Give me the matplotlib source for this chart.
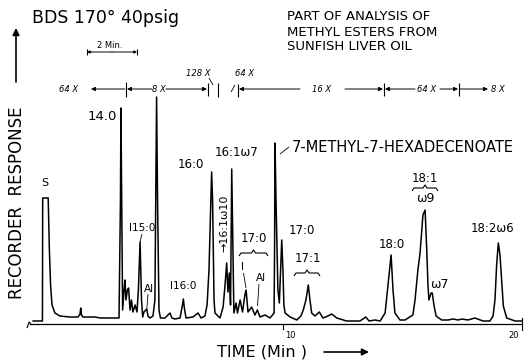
import matplotlib
matplotlib.use('Agg')
import matplotlib.pyplot as plt

# chromatogram trace
# time in minutes, response in chart divisions above the baseline
tempo = [-0.43, -0.04, -0.03, 0.20, 0.25, 0.30, 0.36, 0.48, 0.69, 1.11, 1.45, 1.53, 1.56, 1.59, 1.65,
         2.16, 2.37, 2.78, 3.16, 3.22, 3.24, 3.27, 3.31, 3.37, 3.41, 3.45, 3.51, 3.56, 3.62, 3.68,
         3.74, 3.83, 3.91, 3.97, 4.04, 4.10, 4.15, 4.20, 4.32, 4.37, 4.45, 4.58, 4.66, 4.73, 4.77,
         4.83, 4.89, 5.08, 5.29, 5.37, 5.50, 5.71, 5.81, 5.85, 5.89, 5.96, 6.25, 6.46, 6.59, 6.75,
         6.84, 6.92, 7.00, 7.03, 7.07, 7.13, 7.17, 7.38, 7.51, 7.59, 7.66, 7.71, 7.77, 7.82, 7.87,
         7.92, 7.96, 8.05, 8.11, 8.22, 8.32, 8.42, 8.47, 8.55, 8.70, 8.84, 8.94, 9.05, 9.26, 9.47,
         9.64, 9.66, 9.68, 9.72, 9.80, 9.86, 9.93, 9.96, 10.01, 10.05, 10.10, 10.31, 10.59, 10.76,
         10.86, 10.97, 11.07, 11.14, 11.21, 11.35, 11.53, 11.68, 11.89, 12.05, 12.26, 12.67, 13.23,
         13.47, 13.61, 13.86, 14.07, 14.28, 14.40, 14.53, 14.61, 14.69, 14.90, 15.11, 15.44, 15.53,
         15.65, 15.74, 15.86, 15.95, 16.02, 16.07, 16.11, 16.20, 16.25, 16.32, 16.41, 16.64, 16.91,
         17.12, 17.33, 17.49, 17.74, 18.03, 18.37, 18.66, 18.79, 18.87, 18.94, 19.01, 19.08, 19.16,
         19.22, 19.36, 19.71, 20.00]
resposta = [3, 3, 126, 126, 74, 39, 19, 11, 8, 7, 7, 10, 16, 9, 7,
            7, 6, 6, 6, 124, 216, 124, 14, 34, 44, 24, 34, 36, 14, 24,
            12, 19, 12, 34, 82, 24, 7, 12, 15, 8, 6, 8, 24, 227, 124,
            14, 6, 6, 11, 6, 5, 6, 19, 25, 16, 6, 7, 11, 6, 8,
            19, 54, 124, 152, 124, 24, 11, 6, 17, 39, 61, 32, 51, 19, 155,
            74, 11, 21, 11, 24, 12, 29, 34, 12, 17, 9, 14, 7, 9, 6,
            11, 74, 181, 124, 34, 21, 64, 84, 54, 19, 11, 7, 4, 8,
            14, 24, 39, 24, 11, 8, 12, 6, 8, 10, 6, 3, 3,
            7, 3, 4, 3, 11, 39, 69, 34, 11, 4, 4, 9, 24,
            54, 71, 109, 114, 74, 39, 24, 31, 31, 19, 8, 4, 4,
            5, 4, 5, 4, 6, 3, 3, 8, 24, 59, 81, 69, 39,
            18, 6, 3, 3]

# time axis ticks
ticks = [10, 20]

# layout helper: reference picture pixels -> chart units
X0, SX, Y0 = 43.4, 23.93, 324


def px(x, y):
    return (x - X0) / SX, Y0 - y


def linha(pontos, lw=0.8):
    xs, ys = zip(*[px(a, b) for a, b in pontos])
    ax.plot(xs, ys, color='black', lw=lw, solid_capstyle='butt')


def seta(x0, x1, y, ms=6, lw=0.7):
    ax.annotate('', xy=px(x1, y), xytext=px(x0, y),
                arrowprops=dict(arrowstyle='-|>', color='black', lw=lw,
                                mutation_scale=ms, shrinkA=0, shrinkB=0))


def chave(x0, x1, y, h=3):
    xm = (x0 + x1) / 2
    linha([(x0, y + h), (x0 + 2, y), (xm - 2, y), (xm, y - h), (xm + 2, y), (x1 - 2, y), (x1, y + h)])


def texto(x, y, s, size=8.5, **kw):
    kw.setdefault('ha', 'center')
    kw.setdefault('va', 'center')
    ax.text(*px(x, y), s, fontsize=size, color='black', **kw)


fig = plt.figure(figsize=(5.24, 3.6), dpi=100)
ax = fig.add_axes([0, 0, 1, 1])
ax.set_xlim(-X0 / SX, (524 - X0) / SX)
ax.set_ylim(Y0 - 360, Y0)
ax.axis('off')

# trace
ax.plot(tempo, resposta, color='black', lw=1.1, solid_joinstyle='round')

# time axis
ax.plot([px(30, 0)[0], ticks[-1]], [0, 0], color='black', lw=0.9)
linha([(27, 328), (29, 322), (31, 324)], lw=0.8)
ax.plot([ticks[0], ticks[0]], [0, -5], color='black', lw=0.8)
ax.plot([ticks[1], ticks[1]], [6, -6], color='black', lw=0.8)
texto(290, 336, str(ticks[0]), size=6)
texto(514, 336, str(ticks[1]), size=6)

# axis titles
texto(17, 203, 'RECORDER  RESPONSE', size=12, rotation=90)
ax.annotate('', xy=px(16, 28), xytext=px(16, 82),
            arrowprops=dict(arrowstyle='-|>', color='black', lw=1.2,
                            mutation_scale=10, shrinkA=0, shrinkB=0))
texto(217, 352, 'TIME (Min )', size=11.5, ha='left')
seta(324, 369, 352, ms=10, lw=1.2)

# header
texto(32, 18, 'BDS 170° 40psig', size=12.5, ha='left')
texto(287, 17, 'PART OF ANALYSIS OF', size=9.5, ha='left')
texto(287, 32, 'METHYL ESTERS FROM', size=9.5, ha='left')
texto(287, 47, 'SUNFISH LIVER OIL', size=9.5, ha='left')

# 2 min scale
texto(110, 45, '2 Min.', size=6)
seta(112, 87, 52, ms=4)
seta(112, 137, 52, ms=4)
linha([(87, 49), (87, 55)])
linha([(137, 49), (137, 55)])

# attenuation bar
y = 89
texto(69, y, '64 X', size=6, style='italic')
seta(125, 91, y)
linha([(126, 82), (126, 97)])
texto(159, y, '8 X', size=6, style='italic')
seta(152, 127, y)
seta(166, 207, y)
linha([(208, 83), (208, 96)])
linha([(218, 83), (218, 97)])
texto(198, 73, '128 X', size=6, style='italic')
linha([(209, 78), (213, 85)], lw=0.6)
texto(245, 73, '64 X', size=6, style='italic')
linha([(231, 92), (235, 85)], lw=0.6)
linha([(238, 84), (238, 97)])
texto(322, y, '16 X', size=6, style='italic')
seta(300, 239, y)
seta(345, 383, y)
linha([(384, 83), (384, 96)])
texto(427, y, '64 X', size=6, style='italic')
seta(415, 385, y)
seta(440, 458, y)
linha([(459, 83), (459, 96)])
seta(460, 488, y)
texto(498, y, '8 X', size=6, style='italic')

# peak labels
texto(45, 183, 'S', size=8)
texto(102, 116, '14.0', size=9.5)
texto(142, 228, 'I15:0', size=7.5)
linha([(142, 234), (140, 242)], lw=0.6)
texto(149, 289, 'AI', size=7.5)
linha([(148, 294), (146.7, 310)], lw=0.6)
texto(183, 286, 'I16:0', size=7.5)
texto(191, 164, '16:0', size=8.5)
texto(237, 152, '16:1ω7', size=8.5)
texto(224, 223, '→16:1ω10', size=8, rotation=90)
texto(254, 239, '17:0', size=8.5)
chave(239, 268, 253)
texto(242, 267, 'I', size=7.5)
linha([(243.5, 273), (246, 288)], lw=0.6)
texto(261, 278, 'AI', size=7.5)
linha([(259, 284), (257.5, 306)], lw=0.6)
texto(292, 147, '7-METHYL-7-HEXADECENOATE', size=10.5, ha='left')
linha([(280, 154), (289, 147)], lw=0.6)
texto(302, 231, '17:0', size=8.5)
texto(308, 259, '17:1', size=8.5)
chave(294, 320, 273)
texto(392, 244, '18:0', size=8.5)
texto(425, 178, '18:1', size=8.5)
chave(412, 438, 188)
texto(425, 199, 'ω9', size=9)
texto(439, 284, 'ω7', size=9)
texto(492, 229, '18:2ω6', size=8.5)

plt.savefig('out.png', dpi=100)
